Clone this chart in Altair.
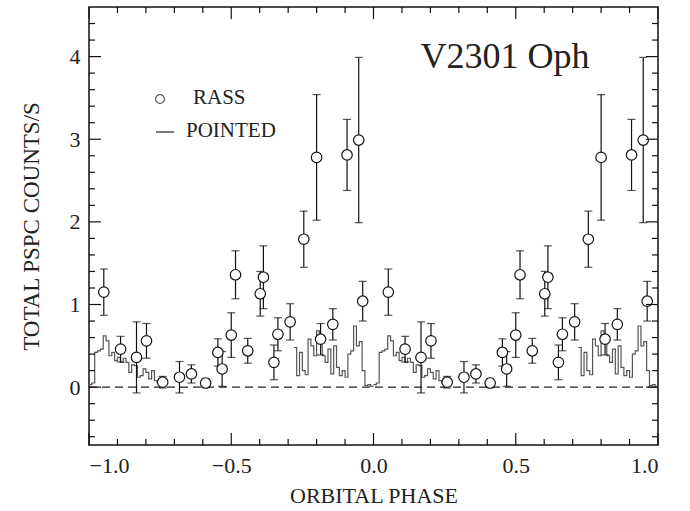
import altair as alt
import pandas as pd

# ---------------- data (orbital phase 0..1, shown twice) ----------------
rass_phase = [0.052, 0.111, 0.167, 0.202, 0.259, 0.318, 0.360, 0.410, 0.453, 0.468,
              0.500, 0.515, 0.558, 0.602, 0.613, 0.650, 0.664, 0.707, 0.755, 0.800,
              0.814, 0.857, 0.907, 0.948, 0.962]
rass_rate = [1.15, 0.46, 0.36, 0.56, 0.06, 0.12, 0.16, 0.05, 0.42, 0.22,
             0.63, 1.36, 0.44, 1.13, 1.33, 0.30, 0.64, 0.79, 1.79, 2.78,
             0.58, 0.76, 2.81, 2.99, 1.04]
rass_err = [0.28, 0.155, 0.43, 0.21, 0.07, 0.19, 0.11, 0.055, 0.165, 0.21,
            0.27, 0.29, 0.15, 0.27, 0.38, 0.21, 0.20, 0.22, 0.34, 0.76,
            0.19, 0.19, 0.43, 1.00, 0.24]

# pointed light curve, bin start phases (segment A and B) and rates
ptd_a_phase = [0.00, 0.01, 0.02, 0.03, 0.04, 0.05, 0.06, 0.07, 0.08, 0.09,
               0.10, 0.11, 0.12, 0.13, 0.14, 0.15, 0.16, 0.17, 0.18, 0.19,
               0.20, 0.21, 0.22, 0.23, 0.24, 0.25, 0.26, 0.27]
ptd_a_rate = [0.03, 0.05, 0.42, 0.44, 0.46, 0.62, 0.56, 0.38, 0.42, 0.32,
              0.36, 0.30, 0.35, 0.30, 0.18, 0.27, 0.26, 0.12, 0.14, 0.22,
              0.18, 0.10, 0.20, 0.08, 0.05, 0.04, 0.01, 0.01]
ptd_b_phase = [0.72, 0.73, 0.74, 0.75, 0.76, 0.77, 0.78, 0.79, 0.80, 0.81,
               0.82, 0.83, 0.84, 0.85, 0.86, 0.87, 0.88, 0.89, 0.90, 0.91,
               0.92, 0.93, 0.94, 0.95, 0.96, 0.97, 0.98, 0.99, 1.00]
ptd_b_rate = [0.48, 0.14, 0.42, 0.20, 0.15, 0.58, 0.50, 0.38, 0.68, 0.55,
              0.38, 0.30, 0.46, 0.16, 0.50, 0.24, 0.14, 0.20, 0.12, 0.40,
              0.44, 0.74, 0.50, 0.55, 0.20, 0.02, 0.03, 0.01, 0.01]

cycles = [-1, 0]

x_major = [-1.0, -0.5, 0.0, 0.5, 1.0]
x_minor = [-0.9, -0.8, -0.7, -0.6, -0.4, -0.3, -0.2, -0.1,
           0.1, 0.2, 0.3, 0.4, 0.6, 0.7, 0.8, 0.9]
y_major = [0, 1, 2, 3, 4]
y_minor = [-0.6, -0.4, -0.2, 0.2, 0.4, 0.6, 0.8, 1.2, 1.4, 1.6, 1.8,
           2.2, 2.4, 2.6, 2.8, 3.2, 3.4, 3.6, 3.8, 4.2, 4.4]

# ---------------- tables ----------------
rass_rows = []
for c in cycles:
    for p, r, e in zip(rass_phase, rass_rate, rass_err):
        rass_rows.append({"phase": p + c, "rate": r, "lo": r - e, "hi": r + e})
rass = pd.DataFrame(rass_rows)

ptd_rows = []
for c in cycles:
    for seg, ph, rt in (("A", ptd_a_phase, ptd_a_rate), ("B", ptd_b_phase, ptd_b_rate)):
        for p, r in zip(ph, rt):
            ptd_rows.append({"phase": p + c, "rate": r, "seg": f"{seg}{c}"})
ptd = pd.DataFrame(ptd_rows)

W, H = 569, 438
FONT = "Liberation Serif"
xs = alt.Scale(domain=[-1, 1], nice=False, zero=False)
ys = alt.Scale(domain=[-0.7, 4.6], nice=False, zero=False)

AX = alt.Axis(title="ORBITAL PHASE", values=x_major, format=".1f",
              labelExpr="replace(datum.label, '-', '\u2212')",
              ticks=False, domain=False, grid=False, labelFont=FONT, labelFontSize=22,
              labelColor="#222", labelPadding=10, titleFont=FONT, titleFontSize=22,
              titleFontWeight="normal", titleColor="#222", titlePadding=9)
AY = alt.Axis(title="TOTAL PSPC COUNTS/S", values=y_major, format="d",
              ticks=False, domain=False, grid=False, labelFont=FONT, labelFontSize=22,
              labelColor="#222", labelPadding=9, titleFont=FONT, titleFontSize=23,
              titleFontWeight="normal", titleColor="#222", titlePadding=26)


def X(f):
    return alt.X(f, scale=xs, axis=AX)


def Y(f):
    return alt.Y(f, scale=ys, axis=AY)


zero_line = alt.Chart(pd.DataFrame({"rate": [0.0]})).mark_rule(
    strokeDash=[8, 5], color="#222", strokeWidth=1.1
).encode(x=alt.value(0), x2=alt.value(W), y=Y("rate:Q"))

step = alt.Chart(ptd).mark_line(interpolate="step-after", color="#555", strokeWidth=1.2).encode(
    x=X("phase:Q"), y=Y("rate:Q"), detail="seg:N", order="phase:Q",
)

bars = alt.Chart(rass).mark_rule(color="#111", strokeWidth=1.2).encode(
    x=X("phase:Q"), y=Y("lo:Q"), y2="hi:Q",
)
cap_lo = alt.Chart(rass).mark_tick(color="#111", orient="horizontal", size=8, thickness=1.2).encode(
    x=X("phase:Q"), y=Y("lo:Q"),
)
cap_hi = alt.Chart(rass).mark_tick(color="#111", orient="horizontal", size=8, thickness=1.2).encode(
    x=X("phase:Q"), y=Y("hi:Q"),
)
pts = alt.Chart(rass).mark_point(shape="circle", filled=True, fill="white", stroke="#111",
                                 strokeWidth=1.2, size=110, opacity=1).encode(
    x=X("phase:Q"), y=Y("rate:Q"),
)


# frame ticks (inward)
def xticks(vals, ln):
    d = pd.DataFrame({"t": vals})
    b = alt.Chart(d).mark_rule(color="#111", strokeWidth=1.2).encode(
        x=X("t:Q"), y=alt.value(H), y2=alt.value(H - ln))
    t = alt.Chart(d).mark_rule(color="#111", strokeWidth=1.2).encode(
        x=X("t:Q"), y=alt.value(0), y2=alt.value(ln))
    return b + t


def yticks(vals, ln):
    d = pd.DataFrame({"t": vals})
    l = alt.Chart(d).mark_rule(color="#111", strokeWidth=1.2).encode(
        y=Y("t:Q"), x=alt.value(0), x2=alt.value(ln))
    r = alt.Chart(d).mark_rule(color="#111", strokeWidth=1.2).encode(
        y=Y("t:Q"), x=alt.value(W), x2=alt.value(W - ln))
    return l + r


legend_pt = alt.Chart(pd.DataFrame({"k": ["RASS"]})).mark_point(
    shape="circle", filled=False, stroke="#111", strokeWidth=1.2, size=80).encode(
    x=alt.value(71), y=alt.value(92))
legend_dash = alt.Chart(pd.DataFrame({"k": ["POINTED"]})).mark_rule(
    color="#333", strokeWidth=1.3).encode(x=alt.value(67), x2=alt.value(85), y=alt.value(125))
legend_txt1 = alt.Chart(pd.DataFrame({"k": ["RASS"]})).mark_text(
    font=FONT, fontSize=21, align="left", baseline="middle", color="#222").encode(
    x=alt.value(104), y=alt.value(91), text="k:N")
legend_txt2 = alt.Chart(pd.DataFrame({"k": ["POINTED"]})).mark_text(
    font=FONT, fontSize=21, align="left", baseline="middle", color="#222").encode(
    x=alt.value(97), y=alt.value(124), text="k:N")
star = alt.Chart(pd.DataFrame({"k": ["V2301 Oph"]})).mark_text(
    font=FONT, fontSize=36, align="center", baseline="alphabetic", color="#222").encode(
    x=alt.value(416), y=alt.value(61), text="k:N")

chart = alt.layer(
    zero_line, step, bars, cap_lo, cap_hi, pts,
    xticks(x_major, 12), xticks(x_minor, 6), yticks(y_major, 12), yticks(y_minor, 6),
    legend_pt, legend_dash, legend_txt1, legend_txt2, star,
).properties(
    width=W, height=H,
    autosize=alt.AutoSizeParams(type="none"),
    padding={"left": 89, "top": 7, "right": 32, "bottom": 66},
    background="white",
).configure_view(stroke="#111", strokeWidth=1.5)

chart.save("out.html", embed_options={"renderer": "svg", "actions": False})
